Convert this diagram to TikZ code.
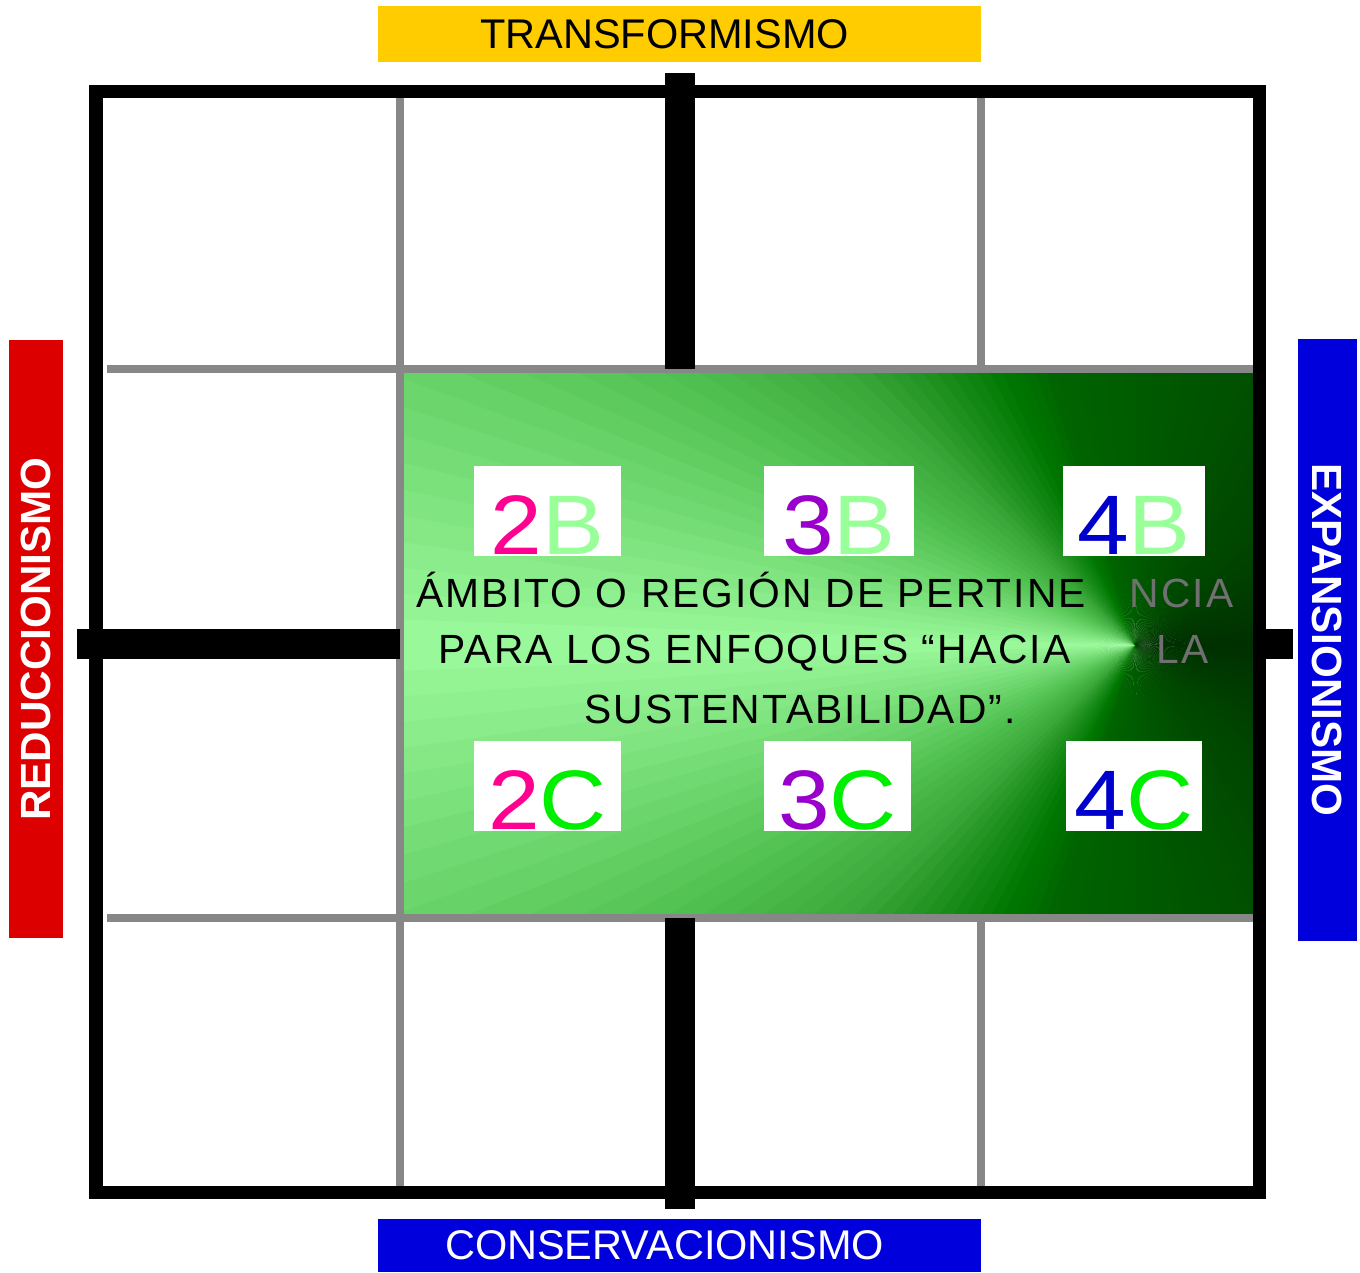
\documentclass[tikz,border=0pt]{standalone}
\usepackage{fontspec}
\setmainfont{Liberation Sans}
\newfontfamily\bandfont{Liberation Sans}
\newfontfamily\phrasefont[LetterSpace=5]{Liberation Sans}
\newfontfamily\numfont[FakeStretch=1.1]{Liberation Sans}
\usepackage{xcolor}
\usepackage{tikz}
\usetikzlibrary{positioning}
\definecolor{amyellow}{HTML}{FFCC00}
\definecolor{amred}{HTML}{DD0000}
\definecolor{amblue}{HTML}{0000DD}
\definecolor{amgray}{HTML}{878787}
\definecolor{amtextgray}{HTML}{707070}
\definecolor{ampink}{HTML}{FF0090}
\definecolor{ampurple}{HTML}{9900CC}
\definecolor{amnavy}{HTML}{0000CC}
\definecolor{ammint}{HTML}{99FF99}
\definecolor{amlime}{HTML}{00EE00}

\begin{document}
\begin{tikzpicture}[
  x=0.01cm, y=-0.01cm,
  band/.style={inner sep=0pt, text=white},
  numbox/.style={fill=white, inner xsep=0pt, inner ysep=0.02cm, text height=0.86cm, text depth=0pt, font=\numfont\fontsize{24}{24}\selectfont},
  phrase/.style={anchor=base west, inner sep=0pt, font=\phrasefont\fontsize{11.6}{14}\selectfont},
  gridline/.style={draw=amgray, line width=0.08cm},
  frameline/.style={draw=black, line width=0.13cm},
  axisbar/.style={draw=black, line width=0.3cm}
]
\useasboundingbox (0,0) rectangle (1360,1272);
\fill[white] (0,0) rectangle (1360,1272);

% green region, conical shading drawn as a fan
\begin{scope}
  \clip (400,369) rectangle (1253,918);
  \foreach \ang in {0,2,...,358} {
    \pgfmathsetmacro\fanT{abs(\ang+1-180)/180}
    \pgfmathtruncatemacro\fanR{\fanT<0.17 ? 156-447*\fanT : (\fanT<0.24 ? 80-314*(\fanT-0.17) : max(0,58-500*(\fanT-0.24)))}
    \pgfmathtruncatemacro\fanG{\fanT<0.17 ? 250-341*\fanT : (\fanT<0.24 ? 192-343*(\fanT-0.17) : (\fanT<0.31 ? 168-429*(\fanT-0.24) : (\fanT<0.41 ? 138-380*(\fanT-0.31) : 100-88*(\fanT-0.41))))}
    \definecolor{fancol}{RGB}{\fanR,\fanG,\fanR}
    \fill[fancol] (1135,645) -- +(\ang:900) -- +(\ang+2.5:900) -- cycle;
  }
\end{scope}

% grid
\draw[gridline] (107,369) -- (1266,369);
\draw[gridline] (107,918) -- (1266,918);
\draw[gridline] (400,96) -- (400,1192);
\draw[gridline] (981,96) -- (981,369);
\draw[gridline] (981,918) -- (981,1192);
\draw[frameline] (96,91) rectangle (1259,1192);
\draw[axisbar] (680,73) -- (680,369);
\draw[axisbar] (680,918) -- (680,1209);
\draw[axisbar] (77,644) -- (400,644);
\draw[axisbar] (1253,644) -- (1293,644);

% axis labels
\node[band, fill=amyellow, text=black, minimum width=6.03cm, minimum height=0.56cm, font=\bandfont\fontsize{11.8}{12}\selectfont] (transf) at (679.5,34) {TRANSFORMISMO\hspace*{0.3cm}};
\node[band, fill=amblue, minimum width=6.03cm, minimum height=0.53cm, font=\bandfont\fontsize{11.8}{12}\selectfont] (conserv) at (679.5,1245.5) {CONSERVACIONISMO\hspace*{0.3cm}};
\node[band, fill=amred, minimum width=5.98cm, minimum height=0.54cm, rotate=90, font=\bfseries\fontsize{12}{12}\selectfont] (reduc) at (36,639) {REDUCCIONISMO};
\node[band, fill=amblue, minimum width=6.02cm, minimum height=0.59cm, rotate=-90, font=\bfseries\fontsize{12}{12}\selectfont] (expan) at (1327.5,640) {EXPANSIONISMO};

% cells
\node[numbox, minimum width=1.47cm] (b2) at (547.5,511) {\textcolor{ampink}{2}\textcolor{ammint}{B}};
\node[numbox, minimum width=1.50cm] (b3) at (839,511) {\textcolor{ampurple}{3}\textcolor{ammint}{B}};
\node[numbox, minimum width=1.42cm] (b4) at (1134,511) {\textcolor{amnavy}{4}\textcolor{ammint}{B}};
\node[numbox, minimum width=1.47cm] (c2) at (547.5,786) {\textcolor{ampink}{2}\textcolor{amlime}{C}};
\node[numbox, minimum width=1.47cm] (c3) at (837.5,786) {\textcolor{ampurple}{3}\textcolor{amlime}{C}};
\node[numbox, minimum width=1.36cm] (c4) at (1134,786) {\textcolor{amnavy}{4}\textcolor{amlime}{C}};

% text of the region
\node[phrase] (ambito) at (416,607) {ÁMBITO O REGIÓN DE PERTINE};
\node[phrase, text=amtextgray] (ambitoend) at (1129,607) {NCIA};
\node[phrase] (enfoques) at (438,663) {PARA LOS ENFOQUES “HACIA};
\node[phrase, text=amtextgray] (enfoquesend) at (1156,663) {LA};
\node[phrase] (sustent) at (584,723) {SUSTENTABILIDAD”.};
\end{tikzpicture}
\end{document}
